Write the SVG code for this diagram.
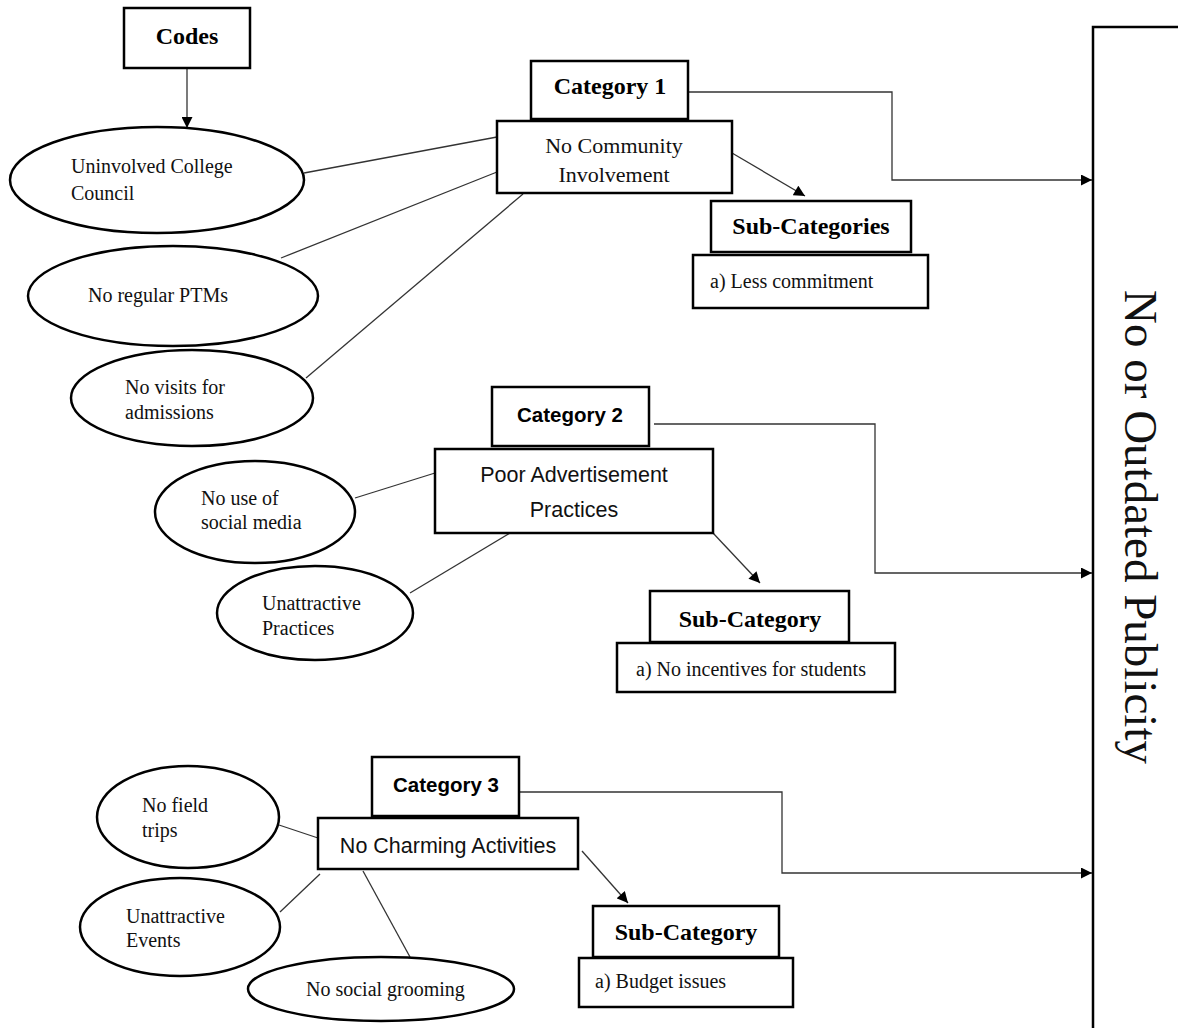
<svg xmlns="http://www.w3.org/2000/svg" width="1178" height="1028" viewBox="0 0 1178 1028">
<style>
.box{fill:#fff;stroke:#000;stroke-width:2.5}
.ell{fill:#fff;stroke:#000;stroke-width:2.5}
.ln{fill:none;stroke:#333;stroke-width:1.3}
.ser{font-family:"Liberation Serif","Times New Roman",serif;fill:#111}
.hb{font-family:"Liberation Serif","Times New Roman",serif;font-weight:bold;font-size:24px;fill:#000;text-anchor:middle}
.sb{font-family:"Liberation Sans",Arial,sans-serif;font-weight:bold;font-size:20.5px;fill:#000;text-anchor:middle}
.sr{font-family:"Liberation Sans",Arial,sans-serif;font-size:21.5px;fill:#111;text-anchor:middle}
.e{font-size:20px}
.c{font-size:22px;text-anchor:middle}
</style>
<defs>
<marker id="arr" viewBox="0 0 10 10" refX="10" refY="5" markerWidth="12" markerHeight="11" markerUnits="userSpaceOnUse" orient="auto">
<path d="M0,0 L10,5 L0,10 z" fill="#000"/>
</marker>
</defs>

<g id="connectors">
<line class="ln" x1="187" y1="68" x2="187" y2="128" marker-end="url(#arr)"/>
<line class="ln" x1="304" y1="173" x2="497" y2="137"/>
<line class="ln" x1="281" y1="258" x2="497" y2="172"/>
<line class="ln" x1="306" y1="378" x2="523" y2="194"/>
<line class="ln" x1="732" y1="153" x2="805" y2="196" marker-end="url(#arr)"/>
<polyline class="ln" points="688,92 892,92 892,180 1092,180" marker-end="url(#arr)"/>
<line class="ln" x1="355" y1="498" x2="435" y2="473"/>
<line class="ln" x1="510" y1="533" x2="410" y2="593"/>
<line class="ln" x1="713" y1="533" x2="760" y2="583" marker-end="url(#arr)"/>
<polyline class="ln" points="654,424 875,424 875,573 1092,573" marker-end="url(#arr)"/>
<line class="ln" x1="279" y1="825" x2="318" y2="838"/>
<line class="ln" x1="280" y1="912" x2="320" y2="874"/>
<line class="ln" x1="363" y1="871" x2="410" y2="957"/>
<line class="ln" x1="582" y1="851" x2="628" y2="903" marker-end="url(#arr)"/>
<polyline class="ln" points="519,792 782,792 782,873 1092,873" marker-end="url(#arr)"/>
</g>

<g id="codes">
<rect class="box" x="124" y="8" width="126" height="60"/>
<text class="hb" x="187" y="44">Codes</text>
</g>

<g id="code-uninvolved">
<ellipse class="ell" cx="157" cy="180" rx="147" ry="53"/>
<text class="ser e" x="71" y="173">Uninvolved College</text>
<text class="ser e" x="71" y="200">Council</text>
</g>
<g id="code-ptms">
<ellipse class="ell" cx="173" cy="296" rx="145" ry="50"/>
<text class="ser e" x="88" y="302">No regular PTMs</text>
</g>
<g id="code-visits">
<ellipse class="ell" cx="192" cy="398" rx="121" ry="48"/>
<text class="ser e" x="125" y="394">No visits for</text>
<text class="ser e" x="125" y="419">admissions</text>
</g>

<g id="category1">
<rect class="box" x="531" y="61" width="157" height="58"/>
<text class="hb" x="610" y="94">Category 1</text>
</g>
<g id="category1-body">
<rect class="box" x="497" y="121" width="235" height="72"/>
<text class="ser c" x="614" y="153">No Community</text>
<text class="ser c" x="614" y="182">Involvement</text>
</g>
<g id="subcategories1">
<rect class="box" x="711" y="201" width="200" height="51"/>
<text class="hb" x="811" y="234">Sub-Categories</text>
</g>
<g id="sub1-item">
<rect class="box" x="693" y="255" width="235" height="53"/>
<text class="ser e" x="710" y="288">a) Less commitment</text>
</g>

<g id="code-social-media">
<ellipse class="ell" cx="255" cy="512" rx="100" ry="51"/>
<text class="ser e" x="201" y="505">No use of</text>
<text class="ser e" x="201" y="529">social media</text>
</g>
<g id="code-unattractive-practices">
<ellipse class="ell" cx="315" cy="613" rx="98" ry="47"/>
<text class="ser e" x="262" y="610">Unattractive</text>
<text class="ser e" x="262" y="635">Practices</text>
</g>

<g id="category2">
<rect class="box" x="492" y="387" width="157" height="59"/>
<text class="sb" x="570" y="422">Category 2</text>
</g>
<g id="category2-body">
<rect class="box" x="435" y="449" width="278" height="84"/>
<text class="sr" x="574" y="482">Poor Advertisement</text>
<text class="sr" x="574" y="517">Practices</text>
</g>
<g id="subcategory2">
<rect class="box" x="650" y="591" width="199" height="51"/>
<text class="hb" x="750" y="627">Sub-Category</text>
</g>
<g id="sub2-item">
<rect class="box" x="617" y="643" width="278" height="49"/>
<text class="ser e" x="636" y="676">a) No incentives for students</text>
</g>

<g id="code-field-trips">
<ellipse class="ell" cx="188" cy="817" rx="91" ry="51"/>
<text class="ser e" x="142" y="812">No field</text>
<text class="ser e" x="142" y="837">trips</text>
</g>
<g id="code-unattractive-events">
<ellipse class="ell" cx="180" cy="927" rx="100" ry="49"/>
<text class="ser e" x="126" y="923">Unattractive</text>
<text class="ser e" x="126" y="947">Events</text>
</g>
<g id="code-social-grooming">
<ellipse class="ell" cx="381" cy="989" rx="133" ry="32"/>
<text class="ser e" x="306" y="996">No social grooming</text>
</g>

<g id="category3">
<rect class="box" x="372" y="757" width="147" height="59"/>
<text class="sb" x="446" y="792">Category 3</text>
</g>
<g id="category3-body">
<rect class="box" x="318" y="818" width="260" height="51"/>
<text class="sr" x="448" y="853">No Charming Activities</text>
</g>
<g id="subcategory3">
<rect class="box" x="593" y="906" width="186" height="51"/>
<text class="hb" x="686" y="940">Sub-Category</text>
</g>
<g id="sub3-item">
<rect class="box" x="579" y="958" width="214" height="49"/>
<text class="ser e" x="595" y="988">a) Budget issues</text>
</g>

<g id="outcome">
<path d="M1093,1030 L1093,27 L1180,27" fill="none" stroke="#000" stroke-width="2.5"/>
<text class="ser" font-size="47" text-anchor="middle" transform="translate(1125,527) rotate(90)" x="0" y="0">No or Outdated Publicity</text>
</g>
</svg>
